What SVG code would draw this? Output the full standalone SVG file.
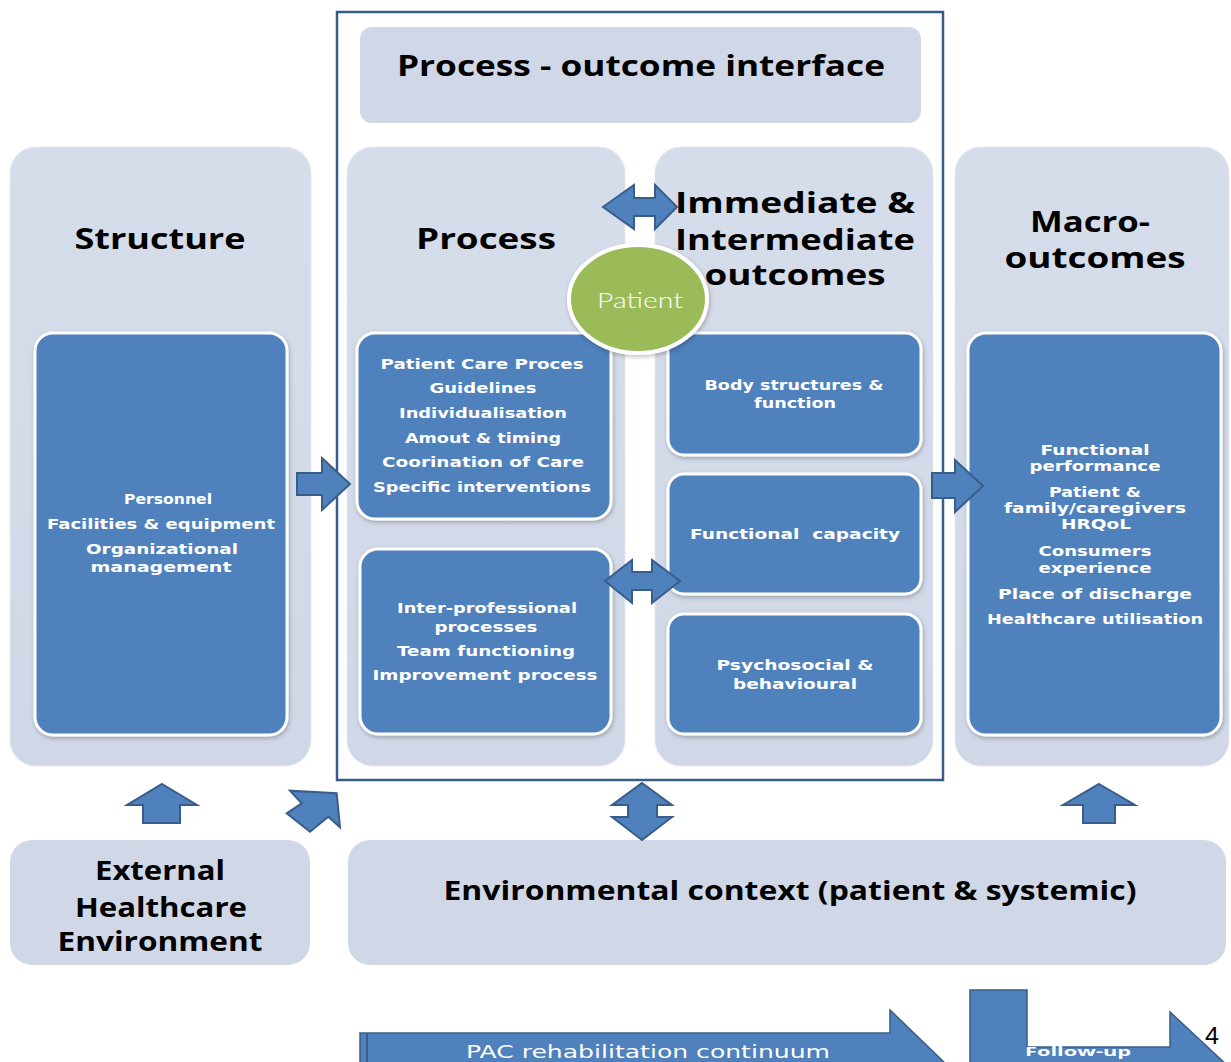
<svg xmlns="http://www.w3.org/2000/svg" width="1231" height="1062" viewBox="0 0 1231 1062">
<defs>
<linearGradient id="colg" x1="0" y1="0" x2="0" y2="1">
<stop offset="0" stop-color="#D6DDEA"/>
<stop offset="1" stop-color="#D0D8E7"/>
</linearGradient>
<filter id="sh" x="-10%" y="-10%" width="120%" height="120%">
<feDropShadow dx="1" dy="2" stdDeviation="2" flood-color="#000" flood-opacity="0.25"/>
</filter>
</defs>
<style>
.col{fill:url(#colg);stroke:#E4E9F2;stroke-width:1}
.lite{fill:#D0D8E8}
.blue{fill:#4F81BD;stroke:#FFFFFF;stroke-width:3}
.arr{fill:#4F81BD;stroke:#385D8A;stroke-width:2;stroke-linejoin:miter}
.title{font-family:"Open Sans","Liberation Sans",sans-serif;font-weight:700;fill:#000;text-anchor:middle}
.bt{font-family:"DejaVu Sans","Liberation Sans",sans-serif;font-weight:700;fill:#FFFFFF;text-anchor:middle;font-size:14px}
</style>
<rect width="1231" height="1062" fill="#FFFFFF"/>

<g id="frame">
<rect x="337" y="12" width="606" height="768" fill="none" stroke="#385D8A" stroke-width="2.5"/>
</g>

<g id="interface">
<rect class="lite" x="360" y="27" width="561" height="96" rx="12"/>
<text class="title" x="641" y="76" font-size="29" textLength="488" lengthAdjust="spacingAndGlyphs">Process - outcome interface</text>
</g>

<g id="structure">
<rect class="col" x="10" y="147" width="301" height="619" rx="26"/>
<text class="title" x="160" y="249" font-size="29" textLength="171" lengthAdjust="spacingAndGlyphs">Structure</text>
<rect class="blue" x="35" y="333" width="252" height="402" rx="18" filter="url(#sh)"/>
<text class="bt" x="168" y="504" textLength="88" lengthAdjust="spacingAndGlyphs">Personnel</text>
<text class="bt" x="161" y="529" textLength="228" lengthAdjust="spacingAndGlyphs">Facilities &amp; equipment</text>
<text class="bt" x="162" y="554" textLength="152" lengthAdjust="spacingAndGlyphs">Organizational</text>
<text class="bt" x="161" y="572" textLength="141" lengthAdjust="spacingAndGlyphs">management</text>
</g>

<g id="process">
<rect class="col" x="347" y="147" width="278" height="619" rx="26"/>
<text class="title" x="486" y="249" font-size="29" textLength="140" lengthAdjust="spacingAndGlyphs">Process</text>
<rect class="blue" x="357" y="333" width="254" height="186" rx="18" filter="url(#sh)"/>
<text class="bt" x="482" y="369" textLength="203" lengthAdjust="spacingAndGlyphs">Patient Care Proces</text>
<text class="bt" x="483" y="393" textLength="107" lengthAdjust="spacingAndGlyphs">Guidelines</text>
<text class="bt" x="483" y="418" textLength="168" lengthAdjust="spacingAndGlyphs">Individualisation</text>
<text class="bt" x="483" y="443" textLength="156" lengthAdjust="spacingAndGlyphs">Amout &amp; timing</text>
<text class="bt" x="483" y="467" textLength="202" lengthAdjust="spacingAndGlyphs">Coorination of Care</text>
<text class="bt" x="482" y="492" textLength="218" lengthAdjust="spacingAndGlyphs">Specific interventions</text>
<rect class="blue" x="360" y="549" width="251" height="185" rx="18" filter="url(#sh)"/>
<text class="bt" x="487" y="613" textLength="180" lengthAdjust="spacingAndGlyphs">Inter-professional</text>
<text class="bt" x="486" y="632" textLength="103" lengthAdjust="spacingAndGlyphs">processes</text>
<text class="bt" x="486" y="656" textLength="178" lengthAdjust="spacingAndGlyphs">Team functioning</text>
<text class="bt" x="485" y="680" textLength="225" lengthAdjust="spacingAndGlyphs">Improvement process</text>
</g>

<g id="outcomes">
<rect class="col" x="655" y="147" width="278" height="619" rx="26"/>
<text class="title" x="795" y="213" font-size="28" textLength="240" lengthAdjust="spacingAndGlyphs">Immediate &amp;</text>
<text class="title" x="795" y="250" font-size="28" textLength="240" lengthAdjust="spacingAndGlyphs">Intermediate</text>
<text class="title" x="795" y="285" font-size="28" textLength="181" lengthAdjust="spacingAndGlyphs">outcomes</text>
<rect class="blue" x="668" y="333" width="253" height="122" rx="16" filter="url(#sh)"/>
<text class="bt" x="794" y="390" textLength="179" lengthAdjust="spacingAndGlyphs">Body structures &amp;</text>
<text class="bt" x="795" y="408" textLength="82" lengthAdjust="spacingAndGlyphs">function</text>
<rect class="blue" x="668" y="474" width="253" height="120" rx="16" filter="url(#sh)"/>
<text class="bt" x="795" y="539" textLength="210" lengthAdjust="spacingAndGlyphs" xml:space="preserve">Functional  capacity</text>
<rect class="blue" x="668" y="614" width="253" height="120" rx="16" filter="url(#sh)"/>
<text class="bt" x="795" y="670" textLength="157" lengthAdjust="spacingAndGlyphs">Psychosocial &amp;</text>
<text class="bt" x="795" y="689" textLength="124" lengthAdjust="spacingAndGlyphs">behavioural</text>
</g>

<g id="macro">
<rect class="col" x="955" y="147" width="274" height="619" rx="26"/>
<text class="title" x="1090" y="232" font-size="28" textLength="120" lengthAdjust="spacingAndGlyphs">Macro-</text>
<text class="title" x="1095" y="268" font-size="28" textLength="181" lengthAdjust="spacingAndGlyphs">outcomes</text>
<rect class="blue" x="968" y="333" width="253" height="402" rx="18" filter="url(#sh)"/>
<text class="bt" x="1095" y="455" textLength="109" lengthAdjust="spacingAndGlyphs">Functional</text>
<text class="bt" x="1095" y="471" textLength="131" lengthAdjust="spacingAndGlyphs">performance</text>
<text class="bt" x="1095" y="497" textLength="92" lengthAdjust="spacingAndGlyphs">Patient &amp;</text>
<text class="bt" x="1095" y="513" textLength="182" lengthAdjust="spacingAndGlyphs">family/caregivers</text>
<text class="bt" x="1096" y="529" textLength="70" lengthAdjust="spacingAndGlyphs">HRQoL</text>
<text class="bt" x="1095" y="556" textLength="113" lengthAdjust="spacingAndGlyphs">Consumers</text>
<text class="bt" x="1095" y="573" textLength="113" lengthAdjust="spacingAndGlyphs">experience</text>
<text class="bt" x="1095" y="599" textLength="194" lengthAdjust="spacingAndGlyphs">Place of discharge</text>
<text class="bt" x="1095" y="624" textLength="216" lengthAdjust="spacingAndGlyphs">Healthcare utilisation</text>
</g>

<g id="patient">
<ellipse cx="638" cy="299" rx="69" ry="54" fill="#9BBB59" stroke="#FFFFFF" stroke-width="4" filter="url(#sh)"/>
<text x="640" y="308" font-family="Lato,'Open Sans',sans-serif" font-weight="300" font-size="21" fill="#FFFFFF" text-anchor="middle" textLength="86" lengthAdjust="spacingAndGlyphs">Patient</text>
</g>

<g id="external">
<rect class="lite" x="10" y="840" width="300" height="125" rx="22"/>
<text class="title" x="160" y="880" font-size="26" textLength="130" lengthAdjust="spacingAndGlyphs">External</text>
<text class="title" x="161" y="917" font-size="26" textLength="172" lengthAdjust="spacingAndGlyphs">Healthcare</text>
<text class="title" x="160" y="951" font-size="26" textLength="205" lengthAdjust="spacingAndGlyphs">Environment</text>
</g>

<g id="environment">
<rect class="lite" x="348" y="840" width="878" height="125" rx="22"/>
<text class="title" x="790" y="900" font-size="27" textLength="693" lengthAdjust="spacingAndGlyphs">Environmental context (patient &amp; systemic)</text>
</g>

<g id="connectors">
<path class="arr" d="M297,473 L322,473 L322,458 L350,484 L322,510 L322,495 L297,495 Z"/>
<path class="arr" d="M932,473 L955,473 L955,460 L983,486 L955,512 L955,498 L932,498 Z"/>
<path class="arr" d="M603,207 L634,185 L634,198 L655,198 L655,185 L677,207 L655,229 L655,216 L634,216 L634,229 Z"/>
<path class="arr" d="M605,581 L632,560 L632,572 L652,572 L652,560 L680,581 L652,603 L652,590 L632,590 L632,603 Z"/>
<path class="arr" d="M162,784 L197,805 L180,805 L180,823 L143,823 L143,805 L127,805 Z"/>
<path class="arr" d="M336.7,793.3 L340,827.3 L328.3,816.7 L310,831.7 L286.7,813.3 L301.7,803.3 L290,790.7 Z"/>
<path class="arr" d="M642,783 L672,805 L657,805 L657,817 L672,817 L642,840 L612,817 L628,817 L628,805 L612,805 Z"/>
<path class="arr" d="M1099,784 L1135,805 L1115,805 L1115,823 L1083,823 L1083,805 L1063,805 Z"/>
</g>

<g id="pac">
<path d="M360,1033 L890,1033 L890,1010 L948,1066 L890,1122 L890,1099 L360,1099 Z" fill="#4F81BD" stroke="#385D8A" stroke-width="1.5"/>
<line x1="367" y1="1034" x2="367" y2="1062" stroke="#385D8A" stroke-width="2"/>
<text x="648" y="1058" font-family="'DejaVu Sans','Liberation Sans',sans-serif" font-size="18" fill="#FFFFFF" text-anchor="middle" textLength="364" lengthAdjust="spacingAndGlyphs">PAC rehabilitation continuum</text>
</g>

<g id="followup">
<path d="M970,990 L1027,990 L1027,1047 L1170,1047 L1170,1012 L1230,1068 L1170,1124 L1170,1100 L970,1100 Z" fill="#4F81BD" stroke="#385D8A" stroke-width="1.5"/>
<text x="1078" y="1056" font-family="'Open Sans','Liberation Sans',sans-serif" font-weight="700" font-size="13" fill="#FFFFFF" text-anchor="middle" textLength="106" lengthAdjust="spacingAndGlyphs">Follow-up</text>
</g>

<text x="1212" y="1044" font-family="'Liberation Sans',sans-serif" font-size="24" fill="#000" text-anchor="middle" textLength="14" lengthAdjust="spacingAndGlyphs">4</text>
</svg>
